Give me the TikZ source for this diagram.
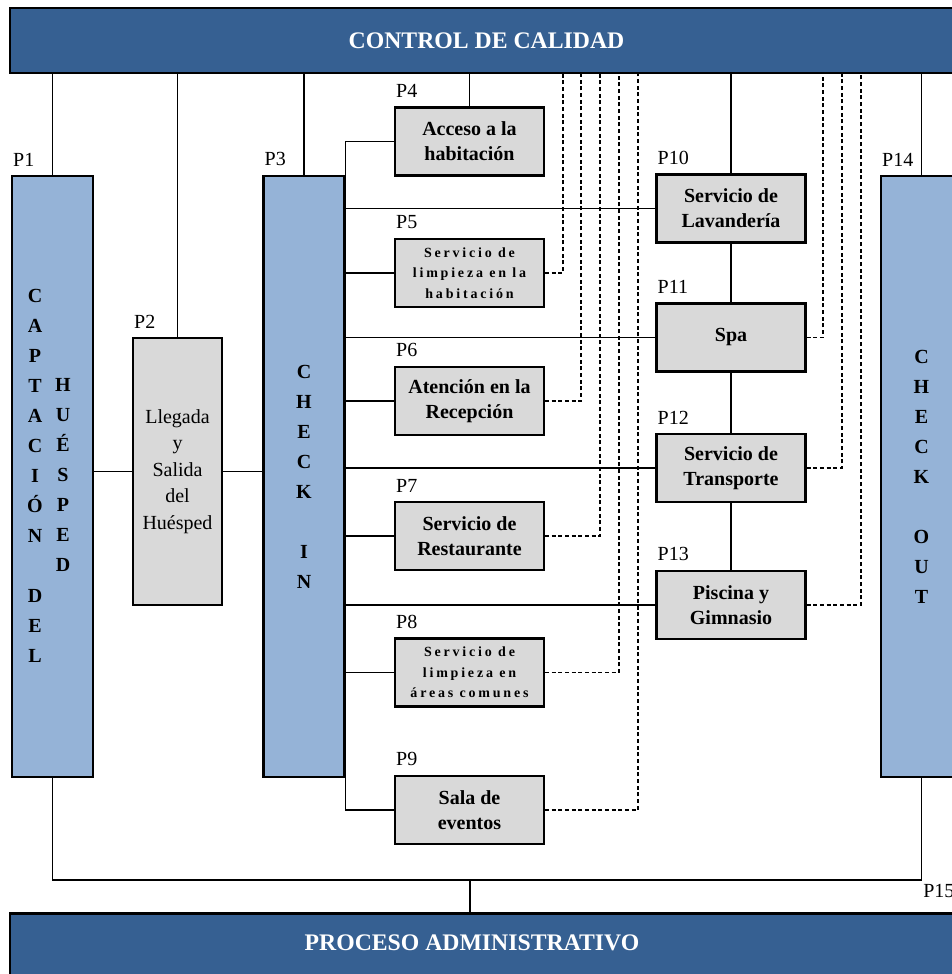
\documentclass[tikz,border=0pt]{standalone}
\usepackage{fontspec}
\setmainfont{Liberation Serif}
\definecolor{azulosc}{HTML}{366092}
\definecolor{azulcla}{HTML}{95B3D7}
\definecolor{grisbox}{HTML}{D9D9D9}
\tikzset{
  barra/.style={draw, line width=1.6pt, fill=azulosc, minimum width=714.75pt, minimum height=48.75pt, inner sep=0pt},
  bartxt/.style={text=white, font=\bfseries\fontsize{17.8}{21}\selectfont},
  columna/.style={draw, line width=1.6pt, fill=azulcla, minimum width=60.75pt, minimum height=450.75pt, inner sep=0pt},
  letras/.style={align=center, inner sep=0pt, font=\bfseries\fontsize{15}{22.5}\selectfont},
  proc/.style={draw, line width=1.6pt, fill=grisbox, minimum width=111.75pt, minimum height=51pt, inner sep=0pt, align=center, font=\bfseries\fontsize{15}{18.75}\selectfont},
  espaciado/.style={font=\bfseries\fontsize{10.5}{15.5}\selectfont\addfontfeature{LetterSpace=20}},
  plab/.style={anchor=south west, inner sep=0pt, font=\fontsize{15}{18}\selectfont},
  linea/.style={line width=1.3pt},
  calidad/.style={line width=1pt, densely dashed}
}
\begin{document}
\begin{tikzpicture}[x=0.75pt, y=-0.75pt]
  \useasboundingbox (0,0) rectangle (952,974);
  \node[barra, bartxt] (ctrl) at (486.5,40.5) {CONTROL DE CALIDAD};
  \node[barra] (admin) at (486.5,946) {};
  \node[bartxt] (admintxt) at (472,943) {PROCESO ADMINISTRATIVO};

  \node[columna] (P1) at (52.5,476.5) {};
  \node[letras] (capt) at (35,476) {C\\A\\P\\T\\A\\C\\I\\Ó\\N\\[22.5pt]D\\E\\L};
  \node[letras] (hues) at (63,475) {H\\U\\É\\S\\P\\E\\D};
  \node[proc, minimum width=66.75pt, minimum height=200.25pt, font=\fontsize{15}{19.9}\selectfont] (P2) at (177.5,471.5) {Llegada\\y\\Salida\\del\\Huésped};
  \node[columna, letras] (P3) at (304,476.5) {C\\H\\E\\C\\K\\[22.5pt]I\\N};
  \node[columna, letras] (P14) at (921.5,476.5) {C\\H\\E\\C\\K\\[22.5pt]O\\U\\T};

  \node[proc] (P4) at (469.5,141.5) {Acceso a la\\habitación};
  \node[proc, espaciado] (P5) at (469.5,273) {Servicio de\\limpieza en la\\habitación};
  \node[proc] (P6) at (469.5,401) {Atención en la\\Recepción};
  \node[proc] (P7) at (469.5,536) {Servicio de\\Restaurante};
  \node[proc, espaciado] (P8) at (469.5,672.5) {Servicio de\\limpieza en\\áreas comunes};
  \node[proc] (P9) at (469.5,810) {Sala de\\eventos};
  \node[proc] (P10) at (731,208.5) {Servicio de\\Lavandería};
  \node[proc] (P11) at (731,337.5) {Spa};
  \node[proc] (P12) at (731,468) {Servicio de\\Transporte};
  \node[proc] (P13) at (731,605) {Piscina y\\Gimnasio};

  \foreach \i in {1,...,14}
    \node[plab] (l\i) at ([shift={(1.5pt,6.5pt)}]P\i.north west) {P\i};
  \node[plab] (l15) at (923,898) {P15};

  \foreach \n in {P1,P2,P3,P4,P10,P14}
    \draw[linea] (\n.north) -- (\n.north |- ctrl.south);
  \draw[linea] (P1.east |- P2.west) -- (P2.west);
  \draw[linea] (P2.east) -- (P2.east -| P3.west);
  \draw[linea] (P4.west) -| (P3.north east);
  \draw[linea] (P9.west) -| (P3.south east);
  \foreach \n in {P5,P6,P7,P8,P10,P11,P12,P13}
    \draw[linea] (\n.west) -- (\n.west -| P3.east);
  \draw[linea] (P10.south) -- (P11.north) (P11.south) -- (P12.north) (P12.south) -- (P13.north);
  \foreach \n/\x in {P5/563,P6/581,P7/600,P8/619,P9/638,P11/823,P12/842,P13/861}
    \draw[calidad] (\n.east) -| (\x,0 |- ctrl.south);

  \coordinate (bus) at (470,880);
  \draw[linea] (P1.south) |- (bus) -| (P14.south);
  \draw[linea] (bus) -- (bus |- admin.north);
\end{tikzpicture}
\end{document}
